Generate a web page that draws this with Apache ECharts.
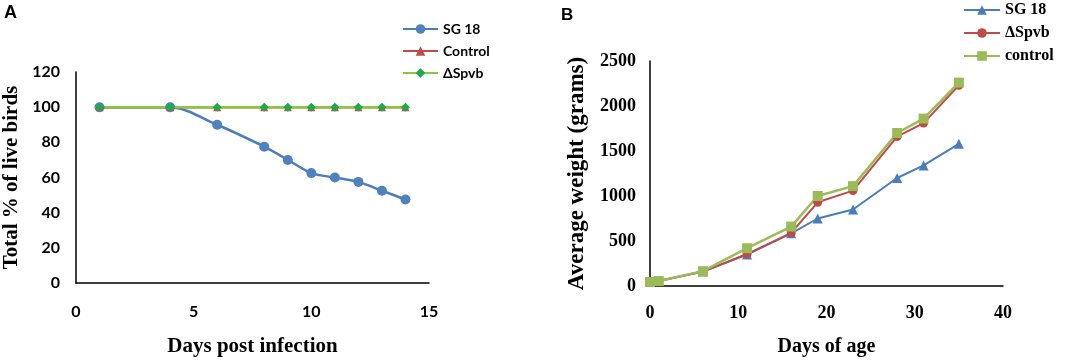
<!DOCTYPE html>
<html>
<head>
<meta charset="utf-8">
<script src="https://cdn.jsdelivr.net/npm/echarts@6/dist/echarts.min.js"></script>
<style>
  html, body { margin: 0; padding: 0; background: #fff; }
  #main { width: 1065px; height: 362px; }
</style>
</head>
<body>
<div id="main"></div>
<script>
// panel A - survival
const daysA = [1, 4, 6, 8, 9, 10, 11, 12, 13, 14];
const sg18A = [100, 100, 90, 77.5, 70, 62.5, 60, 57.5, 52.5, 47.5];
const controlA = [100, 100, 100, 100, 100, 100, 100, 100, 100, 100];
const spvbA = [100, 100, 100, 100, 100, 100, 100, 100, 100, 100];

// panel B - weight
const daysB = [0, 1, 6, 11, 16, 19, 23, 28, 31, 35];
const sg18B = [45, 55, 160, 350, 585, 750, 850, 1200, 1340, 1580];
const spvbB = [45, 55, 160, 355, 590, 930, 1060, 1660, 1810, 2230];
const controlB = [45, 55, 165, 420, 660, 1000, 1110, 1700, 1860, 2260];

const pair = (xs, ys) => xs.map((x, i) => [x, ys[i]]);

const serif = '"Liberation Serif", "Times New Roman", serif';
const sans = 'Lato, "Open Sans", sans-serif';

const blue = '#4A7EBB', red = '#BE4B48', green = '#9BBB59', dgreen = '#1DAA4A';

const chart = echarts.init(document.getElementById('main'));

const option = {
  animation: false,
  backgroundColor: '#fff',
  title: [
    { text: 'A', left: 4, top: 4, padding: 0, textStyle: { fontFamily: 'Liberation Sans, Arial', fontWeight: 'bold', fontSize: 18, color: '#000' } },
    { text: 'B', left: 561, top: 7, padding: 0, textStyle: { fontFamily: 'Liberation Sans, Arial', fontWeight: 'bold', fontSize: 17, color: '#000' } }
  ],
  legend: [
    {
      data: ['SG 18', 'Control', 'ΔSpvb'],
      orient: 'vertical', left: 402, top: 22, padding: 0, itemWidth: 35, itemHeight: 12, itemGap: 8,
      textStyle: { fontFamily: sans, fontWeight: 'bold', fontSize: 14, color: '#000' }
    },
    {
      data: ['SG 18 ', 'ΔSpvb ', 'control'],
      orient: 'vertical', left: 963, top: 2, padding: 0, itemWidth: 36, itemHeight: 12, itemGap: 7,
      textStyle: { fontFamily: serif, fontWeight: 'bold', fontSize: 16, color: '#000' }
    }
  ],
  grid: [
    { left: 76, top: 72, width: 353, height: 211 },
    { left: 650, top: 61, width: 353, height: 227 }
  ],
  xAxis: [
    {
      gridIndex: 0, type: 'value', min: 0, max: 15, interval: 5,
      name: 'Days post infection', nameLocation: 'middle', nameGap: 53,
      nameTextStyle: { fontFamily: serif, fontWeight: 'bold', fontSize: 21, color: '#000' },
      axisLine: { show: true, lineStyle: { color: '#000', width: 1.5 } },
      axisTick: { show: false }, splitLine: { show: false },
      axisLabel: { margin: 21, fontFamily: sans, fontWeight: 'bold', fontSize: 16, color: '#000' }
    },
    {
      gridIndex: 1, type: 'value', min: 0, max: 40, interval: 10,
      name: 'Days of age', nameLocation: 'middle', nameGap: 51,
      nameTextStyle: { fontFamily: serif, fontWeight: 'bold', fontSize: 20, color: '#000' },
      axisLine: { show: true, lineStyle: { color: '#000', width: 1.5 } },
      axisTick: { show: false }, splitLine: { show: false },
      axisLabel: { margin: 18, fontFamily: serif, fontWeight: 'bold', fontSize: 18, color: '#000' }
    }
  ],
  yAxis: [
    {
      gridIndex: 0, type: 'value', min: 0, max: 120, interval: 20,
      name: 'Total % of live birds', nameLocation: 'middle', nameGap: 54,
      nameTextStyle: { fontFamily: serif, fontWeight: 'bold', fontSize: 21, color: '#000' },
      axisLine: { show: true, lineStyle: { color: '#000', width: 1.5 } },
      axisTick: { show: false }, splitLine: { show: false },
      axisLabel: { margin: 16, fontFamily: sans, fontWeight: 'bold', fontSize: 16, color: '#000' }
    },
    {
      gridIndex: 1, type: 'value', min: 0, max: 2500, interval: 500,
      name: 'Average weight (grams)', nameLocation: 'middle', nameGap: 61,
      nameTextStyle: { fontFamily: serif, fontWeight: 'bold', fontSize: 23, color: '#000' },
      axisLine: { show: true, lineStyle: { color: '#000', width: 1.5 } },
      axisTick: { show: false }, splitLine: { show: false },
      axisLabel: { margin: 14, fontFamily: serif, fontWeight: 'bold', fontSize: 18, color: '#000', formatter: v => String(v) }
    }
  ],
  series: [
    {
      name: 'SG 18', type: 'line', xAxisIndex: 0, yAxisIndex: 0,
      data: pair(daysA, sg18A), smooth: 0.3,
      symbol: 'circle', symbolSize: 10,
      lineStyle: { color: blue, width: 2.5 }, itemStyle: { color: '#4F81BD' }
    },
    {
      name: 'Control', type: 'line', xAxisIndex: 0, yAxisIndex: 0,
      data: pair(daysA, controlA),
      symbol: 'triangle', symbolSize: 8,
      lineStyle: { color: red, width: 2.5 }, itemStyle: { color: red }
    },
    {
      name: 'ΔSpvb', type: 'line', xAxisIndex: 0, yAxisIndex: 0,
      data: pair(daysA, spvbA),
      symbol: 'diamond', symbolSize: 9,
      lineStyle: { color: '#8DC63F', width: 2.5 }, itemStyle: { color: dgreen }
    },
    {
      name: 'SG 18 ', type: 'line', xAxisIndex: 1, yAxisIndex: 1,
      data: pair(daysB, sg18B),
      symbol: 'triangle', symbolSize: 10,
      lineStyle: { color: blue, width: 2 }, itemStyle: { color: blue }
    },
    {
      name: 'ΔSpvb ', type: 'line', xAxisIndex: 1, yAxisIndex: 1,
      data: pair(daysB, spvbB),
      symbol: 'circle', symbolSize: 9,
      lineStyle: { color: red, width: 2 }, itemStyle: { color: red }
    },
    {
      name: 'control', type: 'line', xAxisIndex: 1, yAxisIndex: 1,
      data: pair(daysB, controlB),
      symbol: 'rect', symbolSize: 10,
      lineStyle: { color: green, width: 2.5 }, itemStyle: { color: green }
    }
  ]
};

chart.setOption(option);
</script>
</body>
</html>
